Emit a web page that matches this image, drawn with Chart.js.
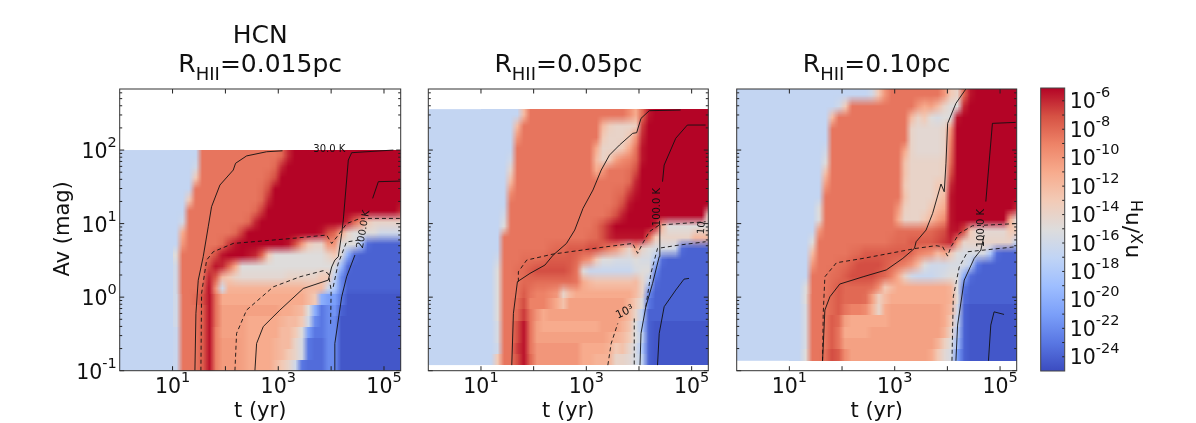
<!DOCTYPE html>
<html>
<head>
<meta charset="utf-8">
<script src="https://cdn.jsdelivr.net/npm/chart.js@4"></script>
<style>
  html, body { margin: 0; background: #fff; }
  canvas { position: absolute; top: 0; }
</style>
</head>
<body>
<canvas id="p1" width="412" height="423" style="left:0"></canvas>
<canvas id="p2" width="308" height="423" style="left:412px"></canvas>
<canvas id="p3" width="310" height="423" style="left:720px"></canvas>
<canvas id="cb" width="166" height="423" style="left:1030px"></canvas>
<script>
// tick values
const xTicks = [10, 100, 1000, 10000, 100000];
const xLabelled = [10, 1000, 100000];
const yTicks = [0.1, 0.2, 0.3, 0.4, 0.5, 0.6, 0.7, 0.8, 0.9, 1, 2, 3, 4, 5, 6, 7, 8, 9, 10, 20, 30, 40, 50, 60, 70, 80, 90, 100, 200, 300, 400, 500, 600];
const yLabelled = [0.1, 1, 10, 100];
const cbExponents = [-6, -7, -8, -9, -10, -11, -12, -13, -14, -15, -16, -17, -18, -19, -20, -21, -22, -23, -24];

// log10(t) where the cell columns start, and their step; left of that everything is the background level
const colStart = 1;
const colStep = 0.125;
const bgLevel = -16.8;
// below this Av the model grid is coarse, so the rows show as blocks
const blockBelowAv = 1.1;

// log10(n_X/n_H), top row first, one column per colStep
const abundA = [
[-16.8,-16.8,-16.8,-16.8,-8.5, -8.5,-8.5,-8.5,-8.5,-8.5, -8.5,-8.5,-8.5,-8.5,-8.5, -8.5,-8,-6,-5,-5, -5,-5,-5,-5,-5, -5,-5,-5,-5,-5, -5,-5,-5,-5,-5],
[-16.8,-16.8,-16.8,-16,-8.5, -8.5,-8.5,-8.5,-8.5,-8.5, -8.5,-8.5,-8.5,-8.5,-8.5, -8,-6,-5,-5,-5, -5,-5,-5,-5,-5, -5,-5,-5,-5,-5, -5,-5,-5,-5,-5],
[-16.8,-16.8,-16.8,-13,-8.5, -8.5,-8.5,-8.5,-8.5,-8.5, -8.5,-8.5,-8.5,-8.5,-8, -7,-5,-5,-5,-5, -5,-5,-5,-5,-5, -5,-5,-5,-5,-5, -5,-5,-5,-5,-5],
[-16.8,-16.8,-16.8,-8.5,-8.5, -8.5,-8.5,-8.5,-8.5,-8.5, -8.5,-8.5,-8.5,-8.2,-7, -5,-5,-5,-5,-5, -5,-5,-5,-5,-5, -5,-5,-5,-5,-5, -5,-5,-5,-5,-5],
[-16.8,-16.8,-13,-8.5,-8.5, -8.5,-8.5,-8.5,-8.5,-8.5, -8.5,-8.5,-8.5,-8,-6, -5,-5,-5,-5,-5, -5,-5,-5,-5,-5, -5,-5,-5,-5,-5, -5,-5,-5,-5,-5],
[-16.8,-16.8,-8.5,-8.5,-8.5, -8.5,-8.5,-8.5,-8.5,-8.5, -8.5,-8.5,-8,-6.5,-5, -5,-5,-5,-5,-5, -5,-5,-5,-5,-5, -5,-5,-5,-5,-5, -5,-5,-5,-5,-6],
[-16.8,-16,-8.5,-8.5,-8.5, -8.5,-8.5,-8.5,-8.5,-8.5, -8.5,-8,-6,-5,-5, -5,-5,-5,-5,-5, -5,-5,-5,-5,-5, -5,-6,-8,-10,-13, -14,-14,-14,-14,-14],
[-16.8,-11,-8.5,-8.5,-8.5, -8.5,-8.5,-8.5,-8.5,-8, -6.5,-5,-5,-5,-5, -5,-5,-5,-5,-5, -5,-5,-5.5,-7,-8, -11,-14,-15,-15,-15, -15,-16,-16,-16,-16],
[-16.8,-10,-8.5,-8.5,-8.5, -8.5,-8.5,-8,-6.5,-5.5, -5,-5,-5,-5,-5, -5,-5,-5.5,-7,-10, -13,-14,-14,-10,-10, -15,-15,-15,-18,-23.5, -24,-24,-24,-24,-24],
[-15,-8.5,-8.5,-8.5,-8.5, -8.2,-7,-5.5,-5,-5, -5,-5.5,-6,-8,-13, -15,-15,-15,-15,-15, -15,-15,-15,-14,-13, -15,-20,-23.5,-24,-24, -24,-24,-24,-24,-24],
[-16,-8.5,-8.5,-8.5,-8.5, -7,-5.5,-6,-8,-11, -15,-15,-15,-15,-15, -15,-15,-15,-15,-15, -15,-15,-15,-15,-15, -19,-23.5,-24,-24,-24, -24,-24,-24,-24,-24],
[-16,-8.5,-8.5,-8.5,-8.5, -6,-7.5,-12,-13,-14, -14.5,-14.5,-14.5,-14.5,-14.5, -14.5,-14.5,-14,-14,-14, -14,-14,-13,-13,-17, -22,-24,-24,-24,-24, -24,-24,-24,-24,-24],
[-16,-8.5,-8.5,-8.5,-8, -5.5,-10,-16,-11.5,-11.5, -11.5,-11.5,-11.5,-11.5,-11.5, -11.5,-11.5,-11.5,-11.5,-11.5, -12,-12,-12,-16,-18, -22,-24,-24,-24,-24, -24,-24,-24,-24,-24],
[-16,-8.5,-8.5,-8.2,-7, -5.5,-8.5,-11,-11,-11, -11,-11,-11,-11,-11, -11,-11,-11,-11,-11, -12,-13,-20,-21,-21, -23,-24.5,-24.5,-24.5,-24.5, -24.5,-24.5,-24.5,-24.5,-24.5],
[-16,-8.5,-8.5,-8.5,-7.5, -5.5,-8.5,-10.5,-10.5,-10.5, -10.5,-10.5,-10.5,-10.5,-10.5, -10.5,-11,-11,-11.5,-12, -15,-20,-23,-22,-21.5, -24,-24.5,-24.5,-24.5,-24.5, -24.5,-24.5,-24.5,-24.5,-24.5],
[-16,-8.5,-8.5,-8.5,-7.5, -5.5,-8.5,-10.5,-10.5,-10.5, -10.5,-11,-11,-11,-11, -11,-11.5,-12,-12,-13, -16,-22,-23,-22,-22, -24.5,-24.5,-24.5,-24.5,-24.5, -24.5,-24.5,-24.5,-24.5,-24.5],
[-16.5,-8.5,-8.5,-8.5,-7.5, -5.5,-9,-10.5,-10.5,-10.5, -10.5,-11,-11,-11,-11, -11,-12,-12,-13,-15, -21,-23,-23,-22,-22, -24.5,-24.5,-24.5,-24.5,-24.5, -24.5,-24.5,-24.5,-24.5,-24.5],
[-16.5,-8.5,-8.5,-8.5,-7.5, -5.5,-9,-10.2,-10.2,-10.2, -10.5,-11,-11,-11,-11, -11.5,-12,-12,-14,-15.5, -23,-23.5,-23.5,-22,-22, -24.5,-24.5,-24.5,-24.5,-24.5, -24.5,-24.5,-24.5,-24.5,-24.5],
[-16.5,-8.5,-8.5,-8.5,-7.5, -5.5,-9,-10.2,-10.2,-10.2, -10.5,-11,-11,-11,-11, -11.5,-12,-13,-14,-15.5, -23,-23.5,-23.5,-22,-22, -24.5,-24.5,-24.5,-24.5,-24.5, -24.5,-24.5,-24.5,-24.5,-24.5],
[-16.5,-8.5,-8.5,-8.5,-7.5, -5.5,-9,-10.2,-10.2,-10.2, -10.5,-11,-11,-11,-11, -12,-13,-14,-16,-23, -23.5,-23.5,-23.5,-22,-22, -24.5,-24.5,-24.5,-24.5,-24.5, -24.5,-24.5,-24.5,-24.5,-24.5]
];
const abundB = [
[-16.8,-16.8,-16.8,-16.8,-16.8, -16.8,-12,-8.5,-8.5,-8.5, -8.5,-8.5,-8.5,-8.5,-8.5, -8.5,-8.5,-8.5,-8.5,-8.5, -8.5,-8.5,-9.5,-11,-8, -5.5,-5,-5,-5,-5, -5,-5,-5,-5,-5],
[-16.8,-16.8,-16.8,-16.8,-16.8, -12,-8.5,-8.5,-8.5,-8.5, -8.5,-8.5,-8.5,-8.5,-8.5, -8.5,-8.5,-8.5,-12,-13.5, -14,-14,-14,-13.5,-6.5, -5,-5,-5,-5,-5, -5,-5,-5,-5,-5],
[-16.8,-16.8,-16.8,-16.8,-16.8, -10,-8.5,-8.5,-8.5,-8.5, -8.5,-8.5,-8.5,-8.5,-8.5, -8.5,-8.5,-8.5,-13,-14, -14,-14,-13,-10,-6, -5,-5,-5,-5,-5, -5,-5,-5,-5,-5],
[-16.8,-16.8,-16.8,-16.8,-16.8, -8.5,-8.5,-8.5,-8.5,-8.5, -8.5,-8.5,-8.5,-8.5,-8.5, -8.5,-8.5,-11,-14,-14, -14,-13,-11,-8.5,-5.5, -5,-5,-5,-5,-5, -5,-5,-5,-5,-5],
[-16.8,-16.8,-16.8,-16.8,-16, -8.5,-8.5,-8.5,-8.5,-8.5, -8.5,-8.5,-8.5,-8.5,-8.5, -8.5,-8.5,-12,-14,-13, -10.5,-9.5,-9,-8,-5.5, -5,-5,-5,-5,-5, -5,-5,-5,-5,-5],
[-16.8,-16.8,-16.8,-16.8,-14, -8.5,-8.5,-8.5,-8.5,-8.5, -8.5,-8.5,-8.5,-8.5,-8.5, -8.5,-8.5,-11,-10,-8.5, -8.5,-8.5,-8.2,-7,-5, -5,-5,-5,-5,-5, -5,-5,-5,-5,-5],
[-16.8,-16.8,-16.8,-16.8,-12, -8.5,-8.5,-8.5,-8.5,-8.5, -8.5,-8.5,-8.5,-8.5,-8.5, -8.5,-8.5,-8.5,-8.5,-8.5, -8.5,-8.5,-8,-6,-5, -5,-5,-5,-5,-5, -5,-5,-5,-5,-5],
[-16.8,-16.8,-16.8,-16.8,-9.5, -8.5,-8.5,-8.5,-8.5,-8.5, -8.5,-8.5,-8.5,-8.5,-8.5, -8.5,-8.5,-8.5,-8.5,-8.5, -8.2,-8,-6.5,-5.5,-5, -5,-5,-5,-5,-5, -5,-5,-5,-5,-5],
[-16.8,-16.8,-16.8,-16.8,-8.5, -8.5,-8.5,-8.5,-8.5,-8.5, -8.5,-8.5,-8.5,-8.5,-8.5, -8.5,-8.5,-8.5,-8.5,-8.5, -8,-7,-5.5,-5,-5, -5,-5,-5,-5,-5, -5,-5,-5,-5,-5],
[-16.8,-16.8,-16.8,-16,-8.5, -8.5,-8.5,-8.5,-8.5,-8.5, -8.5,-8.5,-8.5,-8.5,-8.5, -8.5,-8.5,-8.5,-8.5,-8, -7,-5.8,-5,-5,-5, -5,-5,-5,-5,-5, -5,-5,-5,-5,-14],
[-16.8,-16.8,-16.8,-15,-8.5, -8.5,-8.5,-8.5,-8.5,-8.5, -8.5,-8.5,-8.5,-8.5,-8.5, -8.5,-8.5,-8,-7,-6, -5,-5,-5,-5,-5, -5,-6,-12,-15,-15, -15,-15,-15,-15,-15],
[-16.8,-16.8,-16.8,-8.5,-8.5, -8.5,-8.5,-8.5,-8.5,-8.5, -8.5,-8.5,-8.5,-8.5,-8.5, -8.5,-8.2,-8,-7,-6, -5.5,-5.5,-5.5,-5.5,-5.5, -8,-13,-14,-14,-14, -14,-14,-12,-12,-12],
[-16.8,-16.8,-16.8,-8.5,-8.5, -8.5,-8.5,-8.5,-8.5,-8.5, -8.2,-8,-8,-7.5,-7.5, -7.5,-7,-7,-8,-9, -10,-12,-14,-11,-14, -15,-15.5,-15.5,-15.5,-16, -23.5,-24,-24,-24,-24],
[-16.8,-16.8,-16,-8.5,-8.5, -8.5,-8.2,-8.2,-8.2,-8, -7.5,-7.5,-7.5,-7.5,-8, -9,-10,-13,-15,-15, -15.5,-15.5,-15.5,-15,-15.5, -15.5,-18,-23.5,-24,-24, -24,-24,-24,-24,-24],
[-16.8,-16.8,-15,-8.5,-8.5, -8.2,-8,-7.5,-7,-7, -7,-7,-7,-7.5,-8.5, -15,-16.5,-16.5,-16.5,-16.5, -16.5,-16.5,-16.5,-15.5,-15, -15,-22,-24,-24,-24, -24,-24,-24,-24,-24],
[-16.8,-16.8,-15,-8.5,-8.5, -8.5,-8,-8,-8.2,-8.2, -8.2,-8.2,-8.2,-8.2,-8.5, -11,-12,-12.5,-12.5,-12.5, -12.5,-12.5,-12.5,-12,-14, -17,-23.5,-24,-24,-24, -24,-24,-24,-24,-24],
[-16.8,-16.8,-15,-8.5,-8.5, -8.5,-7.5,-8.5,-9,-9, -9.5,-10,-14,-12,-11, -11,-11,-11,-11,-11, -11,-11,-11,-12,-14, -22,-24,-24,-24,-24, -24,-24,-24,-24,-24],
[-16.8,-16.8,-15,-8.5,-8.5, -8.2,-7,-9,-9,-9, -10,-11,-12.5,-10.5,-10.5, -10.5,-10.5,-10.5,-10.5,-10.5, -10.5,-10.5,-11.5,-13,-15, -23,-24,-24,-24,-24, -24,-24,-24,-24,-24],
[-16.8,-16.8,-15,-8.5,-8.5, -8,-6.5,-8.5,-10,-11, -10.5,-10.5,-10.5,-10.5,-10.5, -10.5,-10.5,-10.5,-10.5,-10.5, -10.5,-11,-12,-14,-17, -24,-24,-24,-24,-24, -24,-24,-24,-24,-24],
[-16.8,-16.8,-15.5,-8.5,-8.5, -7,-5.5,-8.5,-10.5,-11, -11,-11,-11,-11,-11, -11,-11,-11,-10.5,-10.5, -10.5,-11.5,-12.5,-15,-18, -24,-24.5,-24.5,-24.5,-24.5, -24.5,-24.5,-24.5,-24.5,-24.5],
[-16.8,-16.8,-15.5,-8.5,-8.5, -7,-5.5,-8.5,-10.5,-10.5, -10.5,-10.5,-10.5,-10.5,-10.5, -10.5,-10.5,-10.5,-10.5,-11, -11.5,-12,-13,-15,-17, -24,-24.5,-24.5,-24.5,-24.5, -24.5,-24.5,-24.5,-24.5,-24.5],
[-16.8,-16.8,-16,-8.5,-8.5, -6.5,-5.5,-8.5,-10,-10, -10,-10,-10,-10,-10, -11,-11,-11,-11,-11.5, -13,-12.5,-14,-15.5,-18, -24,-24.5,-24.5,-24.5,-24.5, -24.5,-24.5,-24.5,-24.5,-24.5],
[-16.8,-16.8,-13,-8.5,-8.5, -7,-5.5,-8,-10,-10, -10,-10,-10,-10,-10, -11,-11,-11.5,-11.5,-11.5, -14,-14,-14.5,-15.5,-17, -24,-24.5,-24.5,-24.5,-24.5, -24.5,-24.5,-24.5,-24.5,-24.5]
];
const abundC = [
[-16.8,-16.8,-16.8,-16.8,-16.8, -16.8,-16.8,-16.8,-16.8,-16.8, -16.8,-16.8,-16,-13,-10, -8.5,-8.5,-8.5,-8.5,-8.5, -8.5,-8.5,-8.5,-10,-13, -14,-8,-5.5,-5,-5, -5,-5,-5,-5,-5],
[-16.8,-16.8,-16.8,-16.8,-16.8, -16.8,-16.8,-16,-13,-8.5, -8.5,-8.5,-8.5,-8.5,-8.5, -8.5,-8.5,-8.5,-8.5,-10, -11,-10.5,-12,-14,-15, -15,-6,-5,-5,-5, -5,-5,-5,-5,-5],
[-16.8,-16.8,-16.8,-16.8,-16.8, -16.8,-12,-8.5,-8.5,-8.5, -8.5,-8.5,-8.5,-8.5,-8.5, -8.5,-8.5,-8.5,-12,-14, -13,-15,-15.5,-15,-15, -5.5,-5,-5,-5,-5, -5,-5,-5,-5,-5],
[-16.8,-16.8,-16.8,-16.8,-16.8, -16.8,-8.5,-8.5,-8.5,-8.5, -8.5,-8.5,-8.5,-8.5,-8.5, -8.5,-8.5,-8.5,-14,-14.5, -14.5,-14.5,-14.5,-14,-10, -5,-5,-5,-5,-5, -5,-5,-5,-5,-5],
[-16.8,-16.8,-16.8,-16.8,-16.8, -16.8,-8.5,-8.5,-8.5,-8.5, -8.5,-8.5,-8.5,-8.5,-8.5, -8.5,-8.5,-8.5,-14,-14.5, -14.5,-14.5,-14.5,-14,-9, -5,-5,-5,-5,-5, -5,-5,-5,-5,-5],
[-16.8,-16.8,-16.8,-16.8,-16.8, -16,-8.5,-8.5,-8.5,-8.5, -8.5,-8.5,-8.5,-8.5,-8.5, -8.5,-8.5,-11,-14,-14.5, -14.5,-14.5,-14.5,-14,-8.5, -5,-5,-5,-5,-5, -5,-5,-5,-5,-5],
[-16.8,-16.8,-16.8,-16.8,-16.8, -15,-8.5,-8.5,-8.5,-8.5, -8.5,-8.5,-8.5,-8.5,-8.5, -8.5,-8.5,-12.5,-14,-14, -14,-14,-14,-13.5,-8, -5,-5,-5,-5,-5, -5,-5,-5,-5,-5],
[-16.8,-16.8,-16.8,-16.8,-16.8, -12,-8.5,-8.5,-8.5,-8.5, -8.5,-8.5,-8.5,-8.5,-8.5, -8.5,-8.5,-12.5,-14,-14, -14,-14,-14,-13.5,-7, -5,-5,-5,-5,-5, -5,-5,-5,-5,-5],
[-16.8,-16.8,-16.8,-16.8,-16.8, -10,-8.5,-8.5,-8.5,-8.5, -8.5,-8.5,-8.5,-8.5,-8.5, -8.5,-8.5,-13,-14,-14, -14,-14,-13,-13,-6, -5,-5,-5,-5,-5, -5,-5,-5,-5,-5],
[-16.8,-16.8,-16.8,-16.8,-16.8, -8.5,-8.5,-8.5,-8.5,-8.5, -8.5,-8.5,-8.5,-8.5,-8.5, -8.5,-8.5,-12.5,-14,-14, -14,-14,-13,-12,-5.5, -5,-5,-5,-5,-5, -5,-5,-5,-5,-5],
[-16.8,-16.8,-16.8,-16.8,-15, -8.5,-8.5,-8.5,-8.5,-8.5, -8.5,-8.5,-8.5,-8.5,-8.5, -8.5,-10,-13.5,-14,-14, -14,-13,-12,-11,-5.5, -5,-5,-5,-5,-5, -5,-5,-5,-5,-6],
[-16.8,-16.8,-16.8,-16.8,-15, -8.5,-8.5,-8.5,-8.5,-8.5, -8.5,-8.5,-8.5,-8.5,-8.5, -8.5,-11,-14,-14,-14, -13,-12,-10.5,-9.5,-5.5, -5,-5,-5,-5,-5, -5,-5,-5,-11,-15],
[-16.8,-16.8,-16.8,-16.8,-10, -8.5,-8.5,-8.5,-8.5,-8.5, -8.5,-8.5,-8.5,-8.5,-8.5, -8.5,-8.2,-8.2,-8.2,-8.2, -8.2,-8,-7.5,-7,-5.5, -5.5,-7,-13,-14.5,-14.5, -14.5,-14.5,-14.5,-13,-13],
[-16.8,-16.8,-16.8,-15,-8.5, -8.5,-8.5,-8.5,-8.5,-8.5, -8.5,-8.5,-8.5,-8.5,-8.5, -8.2,-8,-8,-7.5,-7.5, -7.5,-7.5,-7,-6.5,-6, -10,-14,-14,-14,-14, -14,-14,-14,-14,-17],
[-16.8,-16.8,-16.8,-12,-8.5, -8.5,-8.5,-8.5,-8.5,-8.2, -8,-7.5,-7.5,-7.5,-7.5, -7.5,-7.5,-7.5,-8,-9, -9.5,-10,-12,-11,-13, -15,-15.5,-15.5,-15.5,-15.5, -18,-23.5,-24,-24,-24],
[-16.8,-16.8,-16.8,-10,-8.5, -8.5,-8.5,-8.2,-8,-7.5, -7,-7,-7,-7,-7.5, -8,-8.5,-9,-10,-12, -15,-16,-16,-16,-15.5, -15.5,-15.5,-17,-23,-24, -24,-24,-24,-24,-24],
[-16.8,-16.8,-16.8,-8.5,-8.5, -8.5,-8.2,-8,-7.5,-7, -7,-7,-7,-7.5,-8, -9,-11,-14,-16,-16.5, -16.5,-16.5,-16,-15.5,-15, -15,-20,-23.5,-24,-24, -24,-24,-24,-24,-24],
[-16.8,-16.8,-15,-8.5,-8.5, -8.5,-8,-7.5,-8,-8, -8,-8,-8.2,-9.5,-13, -12,-11,-11,-11,-11, -11,-11,-11,-11,-11.5, -15,-23,-24,-24,-24, -24,-24,-24,-24,-24],
[-16.8,-16.8,-15,-8.5,-8.5, -8.5,-8,-7.5,-8,-8, -8,-8.2,-10.5,-13.5,-12, -11,-11,-11,-11,-11, -11,-11,-11,-11,-11.5, -15,-23.5,-24,-24,-24, -24,-24,-24,-24,-24],
[-16.8,-16.8,-15.5,-8.5,-8.5, -8.5,-8,-7.5,-8.5,-9, -9,-9.5,-11.5,-14,-11, -10.5,-10.5,-10.5,-10.5,-10.5, -10.5,-10.5,-10.5,-11,-12, -16,-24,-24.5,-24.5,-24.5, -24.5,-24.5,-24.5,-24.5,-24.5],
[-16.8,-16.8,-15.5,-8.5,-8.5, -8.5,-7.5,-8,-10.5,-11, -11,-11,-11,-11,-11, -10.5,-10.5,-10.5,-10.5,-10.5, -10.5,-10.5,-10.5,-11,-13, -17,-24,-24.5,-24.5,-24.5, -24.5,-24.5,-24.5,-24.5,-24.5],
[-16.8,-16.8,-15.5,-8.5,-8.5, -8.5,-7.5,-8.5,-11,-11, -11,-11,-10.5,-10.5,-10.5, -10.5,-10.5,-10.5,-10.5,-10.5, -10.5,-10.5,-10.5,-11.5,-14, -18,-24,-24.5,-24.5,-24.5, -24.5,-24.5,-24.5,-24.5,-24.5],
[-16.8,-16.8,-15.5,-8.5,-8.5, -8.5,-7.5,-8.5,-10.5,-10.5, -10.5,-10.5,-10.5,-10.5,-10.5, -10.5,-10.5,-10.5,-10.5,-10.5, -10.5,-10.5,-11.5,-13.5,-15, -19,-24,-24.5,-24.5,-24.5, -24.5,-24.5,-24.5,-24.5,-24.5],
[-16.8,-16.8,-15,-8.5,-8.5, -8.2,-7,-7.5,-9.5,-10.5, -10.5,-10.5,-10.5,-10.5,-10.5, -10.5,-10.5,-10.5,-10.5,-10.5, -10.5,-11,-13,-14.5,-15.5, -21,-24,-24.5,-24.5,-24.5, -24.5,-24.5,-24.5,-24.5,-24.5]
];

// contour lines as [log10 t, log10 Av]
const contoursA = [
  { dash: [], pts: [[1.423,-1],[1.442,-.22],[1.486,.23],[1.58,.55],[1.675,.957],[1.738,1.23],[1.896,1.524],[2.148,1.728],[2.192,1.82],[2.4,1.92],[2.78,1.977],[3.08,1.99]] },
  { dash: [4,3], pts: [[1.536,-1],[1.549,.05],[1.644,.504],[1.77,.617],[2.148,.73],[3.284,.8],[3.915,.844],[4.01,.73],[4.136,.844],[4.293,1],[4.546,1.07],[5.3,1.07]] },
  { dash: [4,3], pts: [[2.18,-1],[2.211,-.493],[2.4,-.176],[2.905,.14],[3.41,.277],[3.852,.36],[3.946,.32],[4,.1],[3.99,-.38]] },
  { dash: [4,3], pts: [[4.04,.14],[4.13,.45],[4.29,.75],[4.55,.78]] },
  { dash: [], pts: [[2.558,-1],[2.59,-.63],[2.716,-.4],[3.03,-.176],[3.473,.118],[3.946,.232],[4.01,.41],[4.07,.504],[4.136,.55],[4.2,.867],[4.23,1.05],[4.325,1.864],[4.388,1.964],[5.177,2]] },
  { dash: [], pts: [[4.06,-1],[4.07,-.63],[4.2,.005],[4.293,.277],[4.45,.572]] },
  { dash: [], pts: [[4.785,1.343],[4.893,1.57],[5.303,1.578]] }
];
const contoursB = [
  { dash: [], pts: [[1.585,-.924],[1.616,-.22],[1.692,.21],[1.93,.323],[2.214,.436],[2.371,.572],[2.623,.73],[2.78,.912],[2.937,1.207],[3.126,1.456],[3.283,1.728],[3.44,1.932],[3.63,2.068],[3.88,2.227],[3.956,2.236],[4.038,2.43],[4.195,2.535],[4.79,2.544]] },
  { dash: [4,3], pts: [[1.71,.21],[1.71,.345],[1.868,.504],[2.371,.586],[3.377,.685],[3.88,.73],[3.975,.595],[4.069,.73],[4.195,.89],[4.384,.98],[5.264,1.025]] },
  { dash: [4,3], pts: [[3.409,-.924],[3.472,-.63],[3.597,-.357]] },
  { dash: [4,3], pts: [[3.91,-.29],[3.91,-.924]] },
  { dash: [4,3], pts: [[4.13,-.13],[4.226,.323],[4.352,.663],[4.76,.708],[5.264,.753]] },
  { dash: [], pts: [[4.019,-.924],[4.038,-.493],[4.13,-.13],[4.258,.187],[4.384,.55],[4.396,.98]] },
  { dash: [], pts: [[4.447,1.57],[4.478,1.796],[4.698,2.16],[4.918,2.34],[5.264,2.34]] },
  { dash: [], pts: [[4.352,-.924],[4.384,-.493],[4.478,-.13],[4.698,.096],[4.855,.245],[4.95,.255]] }
];
const contoursC = [
  { dash: [], pts: [[1.63,-.865],[1.674,-.176],[1.769,.005],[1.957,.178],[2.4,.277],[2.84,.37],[3.154,.527],[3.375,.663],[3.406,.753],[3.595,.912],[3.72,1.139],[3.879,1.538],[3.94,1.433],[3.973,1.82],[4.005,2.363],[4.162,2.635],[4.351,2.83]] },
  { dash: [4,3], pts: [[1.63,-.865],[1.643,-.22],[1.674,.277],[1.894,.468],[2.4,.527],[3.406,.663],[3.784,.7],[3.91,.685],[4.005,.558],[4.068,.685],[4.225,.867],[4.477,.97],[5.296,1]] },
  { dash: [4,3], pts: [[4.087,-.865],[4.112,.005],[4.225,.41],[4.383,.617],[5.296,.685]] },
  { dash: [], pts: [[4.162,-.865],[4.194,-.38],[4.32,.232],[4.509,.527],[4.635,.64],[4.698,.844]] },
  { dash: [], pts: [[4.73,1.3],[4.855,2.363],[5.296,2.376]] },
  { dash: [], pts: [[4.78,-.865],[4.824,-.38],[4.887,-.2],[5.076,-.235]] }
];

// contour labels: text, log10 t, log10 Av, rotation in degrees, font size
const labelsA = [['30.0 K', 3.965, 2.01, 0, 10], ['200.0 K', 4.66, .957, -80, 10]];
const labelsB = [['100.0 K', 4.396, 1.266, -90, 10], ['10³', 3.755, -.2, -25, 11], ['10', 5.24, .98, -85, 10]];
const labelsC = [['100.0 K', 4.698, .98, -90, 10]];

// data extent of the cell grids as log10 Av (bottom, top)
const avRangeA = [-1, 2];
const avRangeB = [-.924, 2.556];
const avRangeC = [-.865, 2.83];

const xMax = Math.pow(10, 5.316);
const yMax = Math.pow(10, 2.83);
const cbMin = -25, cbMax = -5.1;

// coolwarm
const cmap = [[59,76,192],[89,119,227],[123,159,249],[158,190,255],[192,212,245],[221,220,220],[242,203,183],[247,172,142],[238,132,104],[214,82,68],[180,4,38]];

function colorOf(v) {
  const f = Math.min(1, Math.max(0, (v - cbMin) / (cbMax - cbMin))) * (cmap.length - 1);
  const i = Math.min(cmap.length - 2, Math.floor(f));
  return cmap[i].map((c, k) => Math.round(c + (cmap[i + 1][k] - c) * (f - i)));
}

const FONT = '"DejaVu Sans"';

// text made of runs with their own size and vertical shift (sub and superscripts)
function richText(ctx, parts, x, y, align, rot) {
  ctx.save();
  ctx.translate(x, y);
  if (rot) ctx.rotate(rot * Math.PI / 180);
  let w = 0;
  parts.forEach(p => { ctx.font = `${p.size}px ${FONT}`; p.w = ctx.measureText(p.text).width; w += p.w; });
  let cx = align === 'center' ? -w / 2 : align === 'right' ? -w : 0;
  ctx.textAlign = 'left';
  ctx.textBaseline = 'alphabetic';
  ctx.fillStyle = '#111';
  parts.forEach(p => {
    ctx.font = `${p.size}px ${FONT}`;
    ctx.fillText(p.text, cx, p.dy || 0);
    cx += p.w;
  });
  ctx.restore();
}

const power = exp => [{ text: '10', size: 20.5 }, { text: exp, size: 14.5, dy: -11 }];

const heatPlugin = {
  id: 'heat',
  beforeDatasetsDraw(chart, args, opts) {
    if (!opts.rows) return;
    const { ctx, scales: { x, y } } = chart;
    const rows = opts.rows;
    const nc = rows[0].length, nr = rows.length;
    const yTop = y.getPixelForValue(Math.pow(10, opts.range[1]));
    const yBot = y.getPixelForValue(Math.pow(10, opts.range[0]));
    const xa = x.getPixelForValue(Math.pow(10, colStart));
    const xb = x.getPixelForValue(Math.pow(10, colStart + nc * colStep));
    const off = document.createElement('canvas');
    off.width = nc; off.height = nr;
    const octx = off.getContext('2d');
    const img = octx.createImageData(nc, nr);
    rows.forEach((row, r) => row.forEach((v, c) => {
      const rgb = colorOf(v), k = (r * nc + c) * 4;
      img.data[k] = rgb[0]; img.data[k + 1] = rgb[1]; img.data[k + 2] = rgb[2]; img.data[k + 3] = 255;
    }));
    octx.putImageData(img, 0, 0);
    // smoothed along t only, for the blocky lower part
    const mid = document.createElement('canvas');
    mid.width = Math.round(xb - xa); mid.height = nr;
    const mctx = mid.getContext('2d');
    mctx.imageSmoothingEnabled = true;
    mctx.imageSmoothingQuality = 'low';
    mctx.drawImage(off, 0, 0, mid.width, nr);

    ctx.save();
    ctx.beginPath();
    ctx.rect(x.left, y.top, x.right - x.left, y.bottom - y.top);
    ctx.clip();
    ctx.fillStyle = `rgb(${colorOf(bgLevel).join(',')})`;
    ctx.fillRect(x.left, yTop, xa - x.left + 1, yBot - yTop);
    ctx.imageSmoothingEnabled = true;
    ctx.imageSmoothingQuality = 'low';
    ctx.drawImage(off, xa, yTop, xb - xa, yBot - yTop);

    const yBlock = y.getPixelForValue(blockBelowAv);
    ctx.beginPath();
    ctx.rect(x.left, yBlock, x.right - x.left, y.bottom - yBlock);
    ctx.clip();
    ctx.imageSmoothingEnabled = false;
    ctx.drawImage(mid, xa, yTop, xb - xa, yBot - yTop);
    ctx.restore();
  }
};

const axesPlugin = {
  id: 'axes',
  afterDraw(chart, args, opts) {
    const { ctx, chartArea: a, scales: { x, y } } = chart;
    ctx.save();
    ctx.strokeStyle = '#222';
    ctx.lineWidth = 1;
    ctx.beginPath();
    x.ticks.forEach(t => {
      const p = x.getPixelForValue(t.value);
      ctx.moveTo(p, a.top); ctx.lineTo(p, a.top + 4.5);
      ctx.moveTo(p, a.bottom); ctx.lineTo(p, a.bottom - 4.5);
    });
    y.ticks.forEach(t => {
      const p = y.getPixelForValue(t.value);
      const len = Number.isInteger(Math.round(Math.log10(t.value) * 1e6) / 1e6) ? 4.5 : 2.5;
      ctx.moveTo(a.left, p); ctx.lineTo(a.left + len, p);
      ctx.moveTo(a.right, p); ctx.lineTo(a.right - len, p);
    });
    ctx.stroke();
    ctx.strokeStyle = '#333';
    ctx.strokeRect(a.left, a.top, a.right - a.left, a.bottom - a.top);
    ctx.restore();

    x.ticks.forEach(t => {
      if (t.label) richText(ctx, power(t.label), x.getPixelForValue(t.value), 393, 'center');
    });
    if (opts.yLabels) {
      y.ticks.forEach(t => {
        if (t.label) richText(ctx, power(t.label), a.left - 3, y.getPixelForValue(t.value) + 8, 'right');
      });
      richText(ctx, [{ text: 'Av (mag)', size: 21 }], 69, (a.top + a.bottom) / 2 - 1, 'center', -90);
    }
    richText(ctx, [{ text: 't (yr)', size: 21 }], (a.left + a.right) / 2, 417, 'center');
    if (opts.species) richText(ctx, [{ text: opts.species, size: 25 }], (a.left + a.right) / 2, 43, 'center');
    richText(ctx, [{ text: 'R', size: 25 }, { text: 'HII', size: 18, dy: 8 }, { text: '=' + opts.radius + 'pc', size: 25 }], (a.left + a.right) / 2, 72, 'center');

    // contour labels sit on the lines
    ctx.save();
    ctx.beginPath();
    ctx.rect(a.left, a.top - 3, a.right - a.left, a.bottom - a.top + 3);
    ctx.clip();
    (opts.labels || []).forEach(l => {
      richText(ctx, [{ text: l[0], size: l[4] }], x.getPixelForValue(Math.pow(10, l[1])), y.getPixelForValue(Math.pow(10, l[2])) + 3, 'center', l[3]);
    });
    ctx.restore();
  }
};

function panel(id, rows, range, contours, labels, radius, padLeft, padRight, extra) {
  return new Chart(document.getElementById(id), {
    type: 'scatter',
    data: {
      datasets: contours.map(c => ({
        data: c.pts.map(p => ({ x: Math.pow(10, p[0]), y: Math.pow(10, p[1]) })),
        showLine: true,
        borderColor: '#111',
        borderWidth: 0.9,
        borderDash: c.dash,
        pointRadius: 0,
        tension: 0
      }))
    },
    options: {
      responsive: false,
      animation: false,
      layout: { padding: { left: padLeft, right: padRight, top: 89, bottom: 52.3 } },
      plugins: {
        legend: { display: false },
        tooltip: { enabled: false },
        heat: { rows, range },
        axes: Object.assign({ labels, radius }, extra)
      },
      scales: {
        x: {
          type: 'logarithmic', min: 1, max: xMax,
          grid: { display: false, drawTicks: false }, border: { display: false },
          afterBuildTicks: s => { s.ticks = xTicks.map(v => ({ value: v })); },
          ticks: {
            display: false,
            callback: v => xLabelled.includes(v) ? String(Math.round(Math.log10(v))) : ''
          }
        },
        y: {
          type: 'logarithmic', min: 0.1, max: yMax,
          grid: { display: false, drawTicks: false }, border: { display: false },
          afterBuildTicks: s => { s.ticks = yTicks.map(v => ({ value: v })); },
          ticks: {
            display: false,
            callback: v => yLabelled.includes(v) ? String(Math.round(Math.log10(v))) : ''
          }
        }
      }
    },
    plugins: [heatPlugin, axesPlugin]
  });
}

panel('p1', abundA, avRangeA, contoursA, labelsA, '0.015', 119.7, 11.3, { yLabels: true, species: 'HCN' });
panel('p2', abundB, avRangeB, contoursB, labelsB, '0.05', 16.3, 11.7, {});
panel('p3', abundC, avRangeC, contoursC, labelsC, '0.10', 16.7, 13.3, {});

const barPlugin = {
  id: 'bar',
  beforeDatasetsDraw(chart) {
    const { ctx, chartArea: a, scales: { y } } = chart;
    const top = y.getPixelForValue(Math.pow(10, cbMax)), bot = y.getPixelForValue(Math.pow(10, cbMin));
    const g = ctx.createLinearGradient(0, bot, 0, top);
    cmap.forEach((c, i) => g.addColorStop(i / (cmap.length - 1), `rgb(${c.join(',')})`));
    ctx.fillStyle = g;
    ctx.fillRect(a.left, a.top, a.right - a.left, a.bottom - a.top);
  },
  afterDraw(chart) {
    const { ctx, chartArea: a, scales: { y } } = chart;
    ctx.save();
    ctx.strokeStyle = '#222';
    ctx.beginPath();
    y.ticks.forEach(t => {
      const p = y.getPixelForValue(t.value);
      ctx.moveTo(a.right, p); ctx.lineTo(a.right - 2.5, p);
    });
    ctx.stroke();
    ctx.strokeStyle = '#444';
    ctx.strokeRect(a.left, a.top, a.right - a.left, a.bottom - a.top);
    ctx.restore();
    y.ticks.forEach(t => {
      if (t.label) richText(ctx, power(t.label), a.right + 5, y.getPixelForValue(t.value) + 7.5, 'left');
    });
    richText(ctx, [{ text: 'n', size: 22 }, { text: 'X', size: 16, dy: 5 }, { text: '/n', size: 22 }, { text: 'H', size: 16, dy: 5 }], 108, 229, 'center', -90);
  }
};

new Chart(document.getElementById('cb'), {
  type: 'scatter',
  data: { datasets: [{ data: [] }] },
  options: {
    responsive: false,
    animation: false,
    layout: { padding: { left: 10.7, right: 131.3, top: 88, bottom: 52 } },
    plugins: { legend: { display: false }, tooltip: { enabled: false } },
    scales: {
      x: { display: false },
      y: {
        type: 'logarithmic', min: Math.pow(10, cbMin), max: Math.pow(10, cbMax),
        grid: { display: false, drawTicks: false }, border: { display: false },
        afterBuildTicks: s => { s.ticks = cbExponents.map(e => ({ value: Math.pow(10, e), exp: e })); },
        ticks: {
          display: false,
          callback: (v, i, all) => all[i].exp % 2 === 0 ? String(all[i].exp) : ''
        }
      }
    }
  },
  plugins: [barPlugin]
});
</script>
</body>
</html>
